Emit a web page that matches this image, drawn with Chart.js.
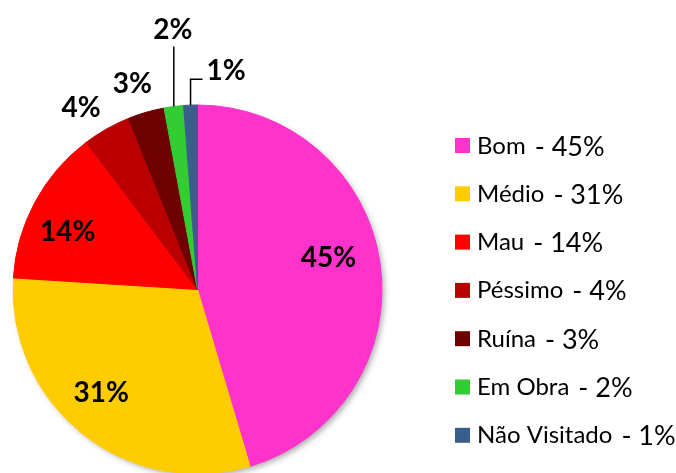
<!DOCTYPE html>
<html>
<head>
<meta charset="utf-8">
<script src="https://cdn.jsdelivr.net/npm/chart.js@4.4.1/dist/chart.umd.min.js"></script>
<style>
  html, body { margin: 0; padding: 0; background: #fff; }
  #wrap { width: 676px; height: 473px; }
</style>
</head>
<body>
<div id="wrap"><canvas id="estado"></canvas></div>
<script>
// estado de conservação
const categorias = ['Bom', 'Médio', 'Mau', 'Péssimo', 'Ruína', 'Em Obra', 'Não Visitado'];
const percentagens = [45.4, 30.6, 13.7, 4.2, 3.2, 1.7, 1.2];
const rotulos = ['45%', '31%', '14%', '4%', '3%', '2%', '1%'];
const cores = ['#FF33CC', '#FFCC00', '#FF0000', '#BA0000', '#6E0000', '#33CC33', '#3A5E8C'];

// where each label goes: inside, outside, or with a leader line
const modoRotulo = ['in', 'in', 'in', 'out', 'out', 'up', 'side'];
const ajuste = [[-6, -12], [-10, -5], [-8, 8], [-10, 6], [-5, 2], [0, 0], [0, 0]];

const FONTE = 'Lato, "Open Sans", sans-serif';

const sombra = {
    id: 'sombra',
    beforeDatasetsDraw(chart) {
        const arc = chart.getDatasetMeta(0).data[0];
        if (!arc) return;
        const p = arc.getProps(['x', 'y', 'outerRadius'], true);
        const ctx = chart.ctx;
        ctx.save();
        ctx.shadowColor = 'rgba(0,0,0,0.35)';
        ctx.shadowBlur = 6;
        ctx.shadowOffsetX = 3;
        ctx.shadowOffsetY = 3;
        ctx.fillStyle = '#fff';
        ctx.beginPath();
        ctx.arc(p.x, p.y, p.outerRadius - 1, 0, Math.PI * 2);
        ctx.fill();
        ctx.restore();
    }
};

const rotulosPlugin = {
    id: 'rotulos',
    afterDatasetsDraw(chart) {
        const ctx = chart.ctx;
        const meta = chart.getDatasetMeta(0);
        ctx.save();
        ctx.fillStyle = '#000';
        ctx.strokeStyle = '#000';
        ctx.lineWidth = 1.5;
        ctx.font = 'bold 28px ' + FONTE;
        ctx.textBaseline = 'middle';
        meta.data.forEach((arc, i) => {
            const p = arc.getProps(['x', 'y', 'startAngle', 'endAngle', 'outerRadius'], true);
            const mid = (p.startAngle + p.endAngle) / 2;
            const R = p.outerRadius;
            const modo = modoRotulo[i];
            if (modo === 'in' || modo === 'out') {
                const r = modo === 'in' ? R * 0.75 : R * 1.17;
                const x = p.x + Math.cos(mid) * r + ajuste[i][0];
                const y = p.y + Math.sin(mid) * r + ajuste[i][1];
                ctx.textAlign = 'center';
                ctx.fillText(rotulos[i], x, y);
            } else if (modo === 'up') {
                const x0 = p.x + Math.cos(mid) * R;
                const y0 = p.y + Math.sin(mid) * R;
                ctx.beginPath();
                ctx.moveTo(x0, y0);
                ctx.lineTo(x0, y0 - 60);
                ctx.stroke();
                ctx.textAlign = 'center';
                ctx.fillText(rotulos[i], x0 - 1, y0 - 77);
            } else {
                const x0 = p.x + Math.cos(mid) * R;
                const y0 = p.y + Math.sin(mid) * R;
                ctx.beginPath();
                ctx.moveTo(x0, y0);
                ctx.lineTo(x0, y0 - 26);
                ctx.lineTo(x0 + 12, y0 - 26);
                ctx.stroke();
                ctx.textAlign = 'left';
                ctx.fillText(rotulos[i], x0 + 16, y0 - 34);
            }
        });
        ctx.restore();
    }
};

const legenda = {
    id: 'legenda',
    afterDraw(chart) {
        const ctx = chart.ctx;
        const bg = chart.data.datasets[0].backgroundColor;
        ctx.save();
        ctx.textBaseline = 'alphabetic';
        ctx.textAlign = 'left';
        chart.data.labels.forEach((nome, i) => {
            const topo = 138 + i * 48.3;
            ctx.fillStyle = bg[i];
            ctx.fillRect(455, topo, 15, 15);
            ctx.fillStyle = '#000';
            ctx.font = '24px ' + FONTE;
            ctx.fillText(nome, 477, topo + 15.5);
            const w = ctx.measureText(nome).width;
            ctx.font = '27px ' + FONTE;
            ctx.fillText('- ' + rotulos[i], 477 + w + 9, topo + 17.5);
        });
        ctx.restore();
    }
};

new Chart(document.getElementById('estado'), {
    type: 'pie',
    data: {
        labels: categorias,
        datasets: [{
            data: percentagens,
            backgroundColor: cores,
            borderColor: cores,
            borderWidth: 1,
            radius: 184.5,
        }]
    },
    options: {
        responsive: true,
        maintainAspectRatio: false,
        animation: false,
        layout: {
            padding: { left: 13, right: 294, top: 106, bottom: 0 }
        },
        plugins: {
            legend: { display: false },
            tooltip: { enabled: false },
        }
    },
    plugins: [sombra, rotulosPlugin, legenda]
});
</script>
</body>
</html>
